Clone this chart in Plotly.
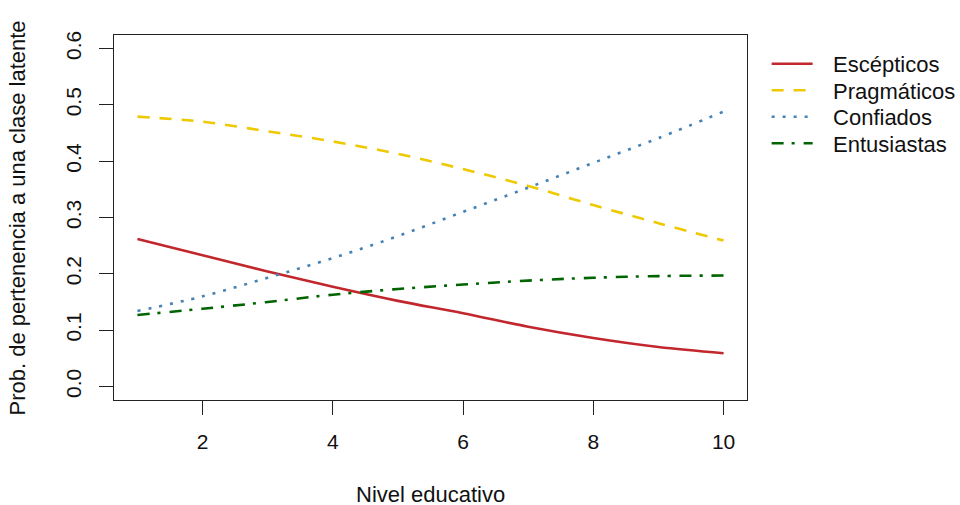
import plotly.graph_objects as go

nivel = [1, 2, 3, 4, 5, 6, 7, 8, 9, 10]
escepticos = [0.262, 0.233, 0.204, 0.177, 0.152, 0.130, 0.106, 0.086, 0.070, 0.059]
pragmaticos = [0.479, 0.470, 0.453, 0.435, 0.413, 0.386, 0.356, 0.322, 0.290, 0.259]
confiados = [0.134, 0.160, 0.193, 0.228, 0.267, 0.310, 0.353, 0.397, 0.441, 0.488]
entusiastas = [0.127, 0.138, 0.150, 0.163, 0.173, 0.181, 0.188, 0.193, 0.196, 0.197]

series = [
    ("Escépticos", escepticos, "#C1272D", "solid"),
    ("Pragmáticos", pragmaticos, "#EEC900", "12px,10px"),
    ("Confiados", confiados, "#4682B4", "3px,8px"),
    ("Entusiastas", entusiastas, "#006400", "12px,8px,3px,9px"),
]

FONT = "Liberation Sans, Arial, sans-serif"
PAD = "\u2002\u2009"  # small gap between legend line sample and label
legend_ids = ["legend", "legend2", "legend3", "legend4"]
legend_rows_px = [64, 90.5, 117, 143.5]

fig = go.Figure()
for (name, vals, color, dash), lid in zip(series, legend_ids):
    fig.add_trace(go.Scatter(
        x=nivel, y=vals, name=PAD + name, mode="lines", legend=lid,
        line=dict(color=color, width=2.6, dash=dash, shape="spline", smoothing=1.0),
    ))

axis_common = dict(
    showline=True, mirror=True, linecolor="#222", linewidth=1,
    ticks="outside", ticklen=14, tickcolor="#222", tickwidth=1,
    showgrid=False, zeroline=False,
    tickfont=dict(family=FONT, size=21, color="#111"),
)

legend_layout = {}
for lid, ypx in zip(legend_ids, legend_rows_px):
    legend_layout[lid] = dict(
        x=1.031, xanchor="left", y=(400 - ypx) / 365, yanchor="middle", itemwidth=41,
        font=dict(family=FONT, size=22, color="#111"), bgcolor="rgba(0,0,0,0)",
    )

fig.update_layout(
    width=960, height=505,
    margin=dict(l=114, r=213, t=35, b=105, autoexpand=False),
    paper_bgcolor="white", plot_bgcolor="white",
    font=dict(family=FONT, size=22, color="#111"),
    xaxis=dict(range=[0.64, 10.36], tickvals=[2, 4, 6, 8, 10],
               ticklabelstandoff=9, **axis_common),
    yaxis=dict(range=[-0.024, 0.624], tickvals=[0, 0.1, 0.2, 0.3, 0.4, 0.5, 0.6],
               tickformat=".1f", tickangle=-90, ticklabelstandoff=10, **axis_common),
    showlegend=True,
    annotations=[
        dict(text="Nivel educativo", xref="paper", yref="paper", x=0.5, y=-0.26,
             xanchor="center", yanchor="middle", showarrow=False,
             font=dict(family=FONT, size=22, color="#111")),
        dict(text="Prob. de pertenencia a una clase latente", xref="paper", yref="paper",
             x=-0.1517, y=0.5, textangle=-90, xanchor="center", yanchor="middle",
             showarrow=False, font=dict(family=FONT, size=22, color="#111")),
    ],
    **legend_layout,
)

fig.write_html("out.html", config={"displayModeBar": False},
               post_script="document.body.style.margin='0px';")
